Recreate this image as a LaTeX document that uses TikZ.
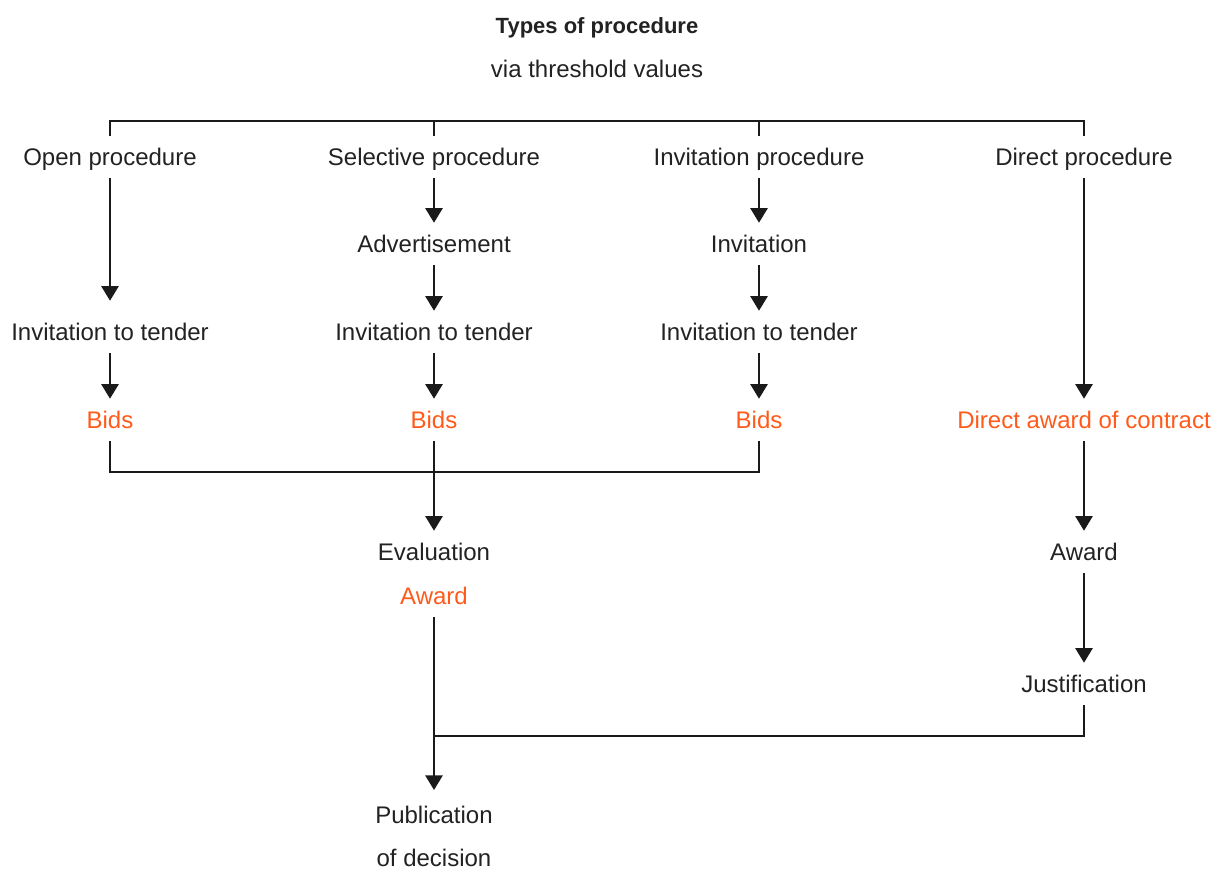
\documentclass[tikz,border=0pt]{standalone}
\usepackage{fontspec}
\setmainfont{Liberation Sans}
\usepackage{tikz}
\usetikzlibrary{positioning}
\usetikzlibrary{arrows.meta}
\definecolor{txtGray}{HTML}{222222}
\definecolor{lineBlack}{HTML}{1A1A1A}
\definecolor{awardOrange}{HTML}{FF5A1A}
\tikzstyle{procText} = [text=txtGray, font=\fontsize{18}{22}\selectfont, inner xsep=0pt, inner ysep=9.3pt, text height=12.9pt, text depth=0pt]
\tikzstyle{hotText}  = [procText, text=awardOrange]
\tikzstyle{flowArrow} = [line width=1.3pt, draw=lineBlack, -{Triangle[width=13pt,length=11pt]}]
\tikzstyle{flowLine}  = [line width=1.3pt, draw=lineBlack]

\begin{document}
\begin{tikzpicture}[x=0.75pt,y=-0.75pt]
                    \useasboundingbox (0,0) rectangle (1217,870);
                    \node at (597, 25) [procText,font=\bfseries\fontsize{16.5}{20}\selectfont] (nTitle) {Types of procedure};
                    \node at (597, 69) [procText]  (nSub)   {via threshold values};
                    \node at (110,157) [procText]  (nOpen)  {Open procedure};
                    \node at (434,157) [procText]  (nSel)   {Selective procedure};
                    \node at (759,157) [procText]  (nInv)   {Invitation procedure};
                    \node at (1084,157)[procText]  (nDir)   {Direct procedure};
                    \node at (434,244) [procText]  (nAdv)   {Advertisement};
                    \node at (759,244) [procText]  (nInvt)  {Invitation};
                    \node at (110,332) [procText]  (nItO)   {Invitation to tender};
                    \node at (434,332) [procText]  (nItS)   {Invitation to tender};
                    \node at (759,332) [procText]  (nItI)   {Invitation to tender};
                    \node at (110,420) [hotText]   (nBidsO) {Bids};
                    \node at (434,420) [hotText]   (nBidsS) {Bids};
                    \node at (759,420) [hotText]   (nBidsI) {Bids};
                    \node at (1084,420)[hotText]   (nDAC)   {Direct award of contract};
                    \node at (434,552) [procText]  (nEval)  {Evaluation};
                    \node at (434,596) [hotText]   (nAwd)   {Award};
                    \node at (1084,552)[procText]  (nAwdD)  {Award};
                    \node at (1084,684)[procText]  (nJust)  {Justification};
                    \node at (434,790) [text=txtGray,font=\fontsize{18}{32.25}\selectfont,align=center,anchor=north,inner xsep=0pt,inner ysep=12pt] (nPub) {Publication\\of decision};
                    % joins
                    \coordinate (cTop)  at (597,121);
                    \coordinate (cBids) at (434,472);
                    \coordinate (cPub)  at (434,736);
                    \draw[flowLine]  (nOpen)   |- (cTop) -| (nDir);
                    \draw[flowLine]  (nSel)    -- (nSel |- cTop);
                    \draw[flowLine]  (nInv)    -- (nInv |- cTop);
                    \draw[flowLine]  (nBidsO)  |- (cBids) -| (nBidsI);
                    \draw[flowLine]  (nJust)   |- (cPub);
                    % arrows
                    \draw[flowArrow,shorten >=7.5pt] (nOpen) -- (nItO) ;
                    \draw[flowArrow] (nItO)    -- (nBidsO) ;
                    \draw[flowArrow] (nSel)    -- (nAdv)   ;
                    \draw[flowArrow] (nAdv)    -- (nItS)   ;
                    \draw[flowArrow] (nItS)    -- (nBidsS) ;
                    \draw[flowArrow] (nBidsS)  -- (nEval)  ;
                    \draw[flowArrow] (nAwd)    -- (nPub.north) ;
                    \draw[flowArrow] (nInv)    -- (nInvt)  ;
                    \draw[flowArrow] (nInvt)   -- (nItI)   ;
                    \draw[flowArrow] (nItI)    -- (nBidsI) ;
                    \draw[flowArrow] (nDir)    -- (nDAC)   ;
                    \draw[flowArrow] (nDAC)    -- (nAwdD)  ;
                    \draw[flowArrow] (nAwdD)   -- (nJust)  ;
                \end{tikzpicture}
\end{document}
